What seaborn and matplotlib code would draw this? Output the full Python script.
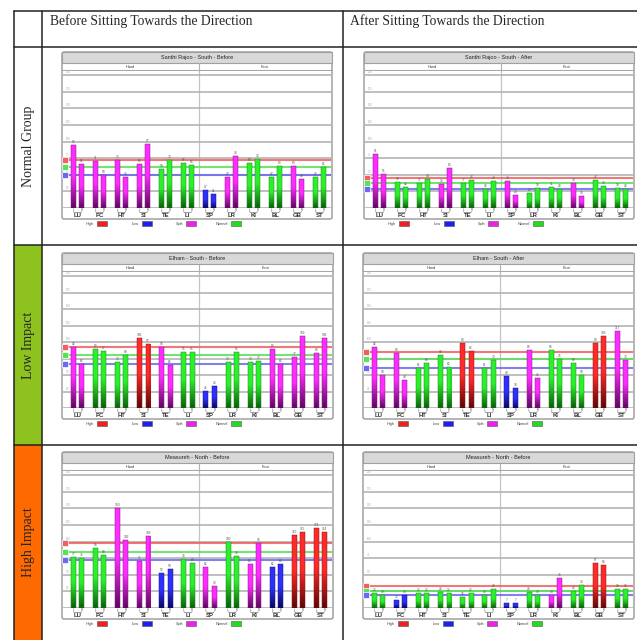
import numpy as np
import pandas as pd
import matplotlib
matplotlib.use("Agg")
import matplotlib.pyplot as plt
import matplotlib.transforms as mtransforms
from matplotlib.patches import FancyBboxPatch, Rectangle
from matplotlib.colors import LinearSegmentedColormap
import seaborn as sns

# ---------------------------------------------------------------- data
groups = ["LU", "PC", "HT", "SI", "TE", "LI", "SP", "LR", "KI", "BL", "GB", "ST"]
sections = ["Hand", "Foot"]
sides = ["L", "R"]

col_titles = ["Before Sitting Towards the Direction", "After Sitting Towards the Direction"]
row_titles = ["Normal Group", "Low Impact", "High Impact"]

chart_titles = [
    "Santhi Rajoo - South - Before", "Santhi Rajoo - South - After",
    "Elham - South - Before", "Elham - South - After",
    "Measureh - North - Before", "Measureh - North - Before",
]

legend_labels = ["High", "Low", "Split", "Normal"]

santhi_before_L = [95, 71, 73, 66, 59, 67, 27, 47, 67, 47, 63, 46]
santhi_before_R = [66, 50, 46, 97, 73, 64, 21, 79, 74, 63, 43, 61]
santhi_before_status = ["Split", "Split", "Split", "Split", "Normal", "Normal",
                        "Low", "Split", "Normal", "Normal", "Split", "Normal"]
santhi_before_refs = [73, 62, 50]          # high, normal, low thresholds

santhi_after_L = [81, 39, 37, 36, 37, 29, 40, 23, 31, 38, 42, 30]
santhi_after_R = [51, 32, 44, 60, 42, 40, 20, 30, 29, 18, 33, 28]
santhi_after_status = ["Split", "Normal", "Normal", "Split", "Normal", "Normal",
                       "Split", "Normal", "Normal", "Split", "Normal", "Normal"]
santhi_after_refs = [45, 37, 28]

elham_before_L = [92, 89, 70, 106, 93, 85, 26, 70, 70, 89, 77, 83]
elham_before_R = [66, 87, 80, 97, 65, 85, 34, 85, 72, 66, 109, 106]
elham_before_status = ["Split", "Normal", "Normal", "High", "Split", "Normal",
                       "Low", "Normal", "Normal", "Split", "Split", "Split"]
elham_before_refs = [92, 80, 66]

elham_after_L = [92, 83, 61, 80, 99, 61, 49, 88, 88, 69, 99, 117]
elham_after_R = [50, 43, 69, 62, 86, 73, 30, 46, 75, 50, 109, 73]
elham_after_status = ["Split", "Split", "Normal", "Normal", "High", "Normal",
                      "Low", "Split", "Normal", "Normal", "High", "Split"]
elham_after_refs = [85, 74, 61]

measureh_before_L = [77, 90, 150, 71, 52, 74, 62, 100, 66, 62, 110, 121]
measureh_before_R = [76, 80, 102, 109, 59, 68, 33, 79, 98, 66, 115, 114]
measureh_before_status = ["Normal", "Normal", "Split", "Split", "Low", "Normal",
                          "Split", "Normal", "Split", "Low", "High", "High"]
measureh_before_refs = [98, 85, 72]

measureh_after_L = [23, 12, 22, 24, 16, 19, 7, 24, 19, 25, 67, 29]
measureh_after_R = [19, 19, 22, 22, 22, 28, 7, 19, 45, 34, 64, 29]
measureh_after_status = ["Normal", "Low", "Normal", "Normal", "Normal", "Normal",
                         "Low", "Normal", "Split", "Normal", "High", "Normal"]
measureh_after_refs = [33, 26, 19]

panels = [
    (santhi_before_L, santhi_before_R, santhi_before_status, santhi_before_refs),
    (santhi_after_L, santhi_after_R, santhi_after_status, santhi_after_refs),
    (elham_before_L, elham_before_R, elham_before_status, elham_before_refs),
    (elham_after_L, elham_after_R, elham_after_status, elham_after_refs),
    (measureh_before_L, measureh_before_R, measureh_before_status, measureh_before_refs),
    (measureh_after_L, measureh_after_R, measureh_after_status, measureh_after_refs),
]

# ---------------------------------------------------------------- style
sns.set_style("white")
plt.rcParams["font.family"] = ["Liberation Sans", "DejaVu Sans"]

status_top = {"High": "#ff2a2a", "Low": "#2f2fff", "Split": "#ff2cff", "Normal": "#2cf02c"}
status_bottom = {"High": "#5e0606", "Low": "#08085e", "Split": "#5e065e", "Normal": "#0c5e0c"}
status_edge = {"High": "#8a1a1a", "Low": "#1a1a8a", "Split": "#8a1a8a", "Normal": "#1a8a1a"}
legend_colors = ["#ee2020", "#2020ee", "#ee20ee", "#20dd20"]
ref_colors = ["#f06060", "#5be05b", "#6a6af0"]

W, H = 637, 640
fig = plt.figure(figsize=(W / 100, H / 100), dpi=100)

bg = fig.add_axes([0, 0, 1, 1])
bg.set_xlim(0, W)
bg.set_ylim(H, 0)
bg.axis("off")

# ---------------------------------------------------------------- table
row_bounds = [(47, 245), (245, 445), (445, 640)]
row_fill = ["white", "#8dc21f", "#ff6a00"]
for (ya, yb), fc in zip(row_bounds, row_fill):
    bg.add_patch(Rectangle((14, ya), 28, yb - ya, fc=fc, ec="none", zorder=0))
for y in [11, 47, 245, 445]:
    bg.plot([14, 637], [y, y], color="#222222", lw=1.1, zorder=1)
for x in [14, 42, 343]:
    bg.plot([x, x], [11, 640], color="#222222", lw=1.1, zorder=1)

serif = ["Liberation Serif", "DejaVu Serif"]
bg.text(50, 21, col_titles[0], fontsize=9.8, family=serif, va="center", ha="left")
bg.text(350, 21, col_titles[1], fontsize=9.8, family=serif, va="center", ha="left")
for (ya, yb), t in zip(row_bounds, row_titles):
    bg.text(28.5, (ya + yb) / 2, t, fontsize=10, family=serif, rotation=90,
            ha="center", va="center")

boxes = [(62, 52, 332, 219), (364, 52, 634, 219),
         (62, 253, 333, 419), (363, 253, 634, 419),
         (62, 452, 333, 619), (363, 452, 634, 619)]


def gradient_cmap(status):
    return LinearSegmentedColormap.from_list(
        status, [status_bottom[status], status_top[status], status_top[status]])


def draw_panel(box, title, left_vals, right_vals, status, refs):
    x0, y0, x1, y1 = box
    # outer frame, title bar
    bg.add_patch(FancyBboxPatch((x0, y0), x1 - x0, y1 - y0,
                                boxstyle="round,pad=0,rounding_size=2",
                                fc="white", ec="#a0a0a0", lw=1.1, zorder=2))
    bg.add_patch(Rectangle((x0, y0), x1 - x0, 11, fc="#d8d8d8", ec="#a0a0a0",
                           lw=0.8, zorder=3))
    bg.text((x0 + x1) / 2, y0 + 5.6, title, fontsize=4, ha="center", va="center",
            color="#222222", zorder=4)
    bg.plot([x0, x1], [y0 + 18, y0 + 18], color="#a8a8a8", lw=0.8, zorder=3)

    # legend under the frame
    for i, (lab, c) in enumerate(zip(legend_labels, legend_colors)):
        bx = x0 + 35 + i * 44.7
        bg.add_patch(Rectangle((bx, y1 + 2.2), 10, 5, fc=c, ec="#555555", lw=0.4, zorder=3))
        bg.text(bx - 3, y1 + 4.7, lab, fontsize=2.8, ha="right", va="center",
                color="#444444", zorder=3)

    # bar plot area
    pl, pt, pr, pb = x0 + 0.6, y0 + 18.5, x1 - 0.6, y1 - 11
    ph, pw = pb - pt, pr - pl
    ax = fig.add_axes([pl / W, 1 - pb / H, pw / W, ph / H])
    ax.set_zorder(5)

    df = pd.DataFrame({
        "group": groups * 2,
        "side": ["L"] * len(groups) + ["R"] * len(groups),
        "value": list(left_vals) + list(right_vals),
    })
    sns.barplot(data=df, x="group", y="value", hue="side", order=groups,
                hue_order=sides, width=0.75, gap=0.40, errorbar=None,
                legend=False, ax=ax, palette=["#888888", "#888888"])

    xlim = (-0.68, 11.54)
    ylim = (0, 207)
    status_of = dict(zip(groups, status))
    for patch in list(ax.patches):
        bx, by = patch.get_x(), patch.get_y()
        bw, bh = patch.get_width(), patch.get_height()
        cx = bx + bw / 2
        gi = int(round(cx))
        st = status_of[groups[gi]]
        grad = np.linspace(1, 0, 64)
        img = ax.imshow(grad[:, None], extent=[bx, bx + bw, by, by + bh],
                        aspect="auto", cmap=gradient_cmap(st), vmin=0, vmax=1,
                        origin="upper", zorder=1.5, interpolation="bilinear")
        img.set_clip_path(patch)
        patch.set_facecolor("none")
        patch.set_edgecolor(status_edge[st])
        patch.set_linewidth(0.35)
        patch.set_zorder(2)
        ax.text(cx, by + bh + 1.5, f"{bh:.0f}", fontsize=2.3, ha="center",
                va="bottom", color="#555555", zorder=3)

    ax.set_xlim(*xlim)
    ax.set_ylim(*ylim)
    ax.set_xlabel("")
    ax.set_ylabel("")
    ax.set_xticks([])
    ax.set_yticks(np.arange(0, 201, 25))
    ax.set_yticklabels([])
    ax.tick_params(length=0)
    ax.grid(axis="y", color="#b4b4b4", lw=1.2)
    ax.set_axisbelow(True)
    for s in ax.spines.values():
        s.set_visible(False)

    trans_y = mtransforms.blended_transform_factory(ax.transAxes, ax.transData)
    for v in range(25, 201, 25):
        ax.text(0.012, v + 1.5, str(v), fontsize=2.2, color="#b0b0b0",
                transform=trans_y, ha="left", va="bottom")

    # Hand / Foot divider and section headings
    ax.axvline(5.5, color="#c4c4c4", lw=0.9, zorder=0.5)
    trans_x = mtransforms.blended_transform_factory(ax.transData, ax.transAxes)
    ax.plot([5.5, 5.5], [1, 1 + 7 / ph], color="#b0b0b0", lw=0.8,
            transform=trans_x, clip_on=False)
    ax.text(2.4, 1 + 3.6 / ph, sections[0], fontsize=2.8, ha="center", va="center",
            transform=trans_x, color="#333333")
    ax.text(8.5, 1 + 3.6 / ph, sections[1], fontsize=2.8, ha="center", va="center",
            transform=trans_x, color="#333333")

    # reference thresholds with end markers
    for v, c in zip(refs, ref_colors):
        ax.axhline(v, color=c, lw=1.5, alpha=0.85, zorder=1.2)
        ax.plot([2.4 / pw], [v], marker="s", markersize=4.0, markerfacecolor=c,
                markeredgecolor="#ffffff", markeredgewidth=0.5,
                transform=trans_y, clip_on=False, zorder=6)

    # L/R letters, brackets and group names under the bars
    for i, g in enumerate(groups):
        xl, xr = i - 0.19, i + 0.19
        ax.text(xl, -2.3 / ph, "L", fontsize=2.0, ha="center", va="center",
                transform=trans_x, color="#444444")
        ax.text(xr, -2.3 / ph, "R", fontsize=2.0, ha="center", va="center",
                transform=trans_x, color="#444444")
        ax.plot([xl, xl + 0.05, xr - 0.05, xr],
                [-3.6 / ph, -4.6 / ph, -4.6 / ph, -3.6 / ph],
                color="#555555", lw=0.4, transform=trans_x, clip_on=False)
        ax.text(i, -7.6 / ph, g, fontsize=4.3, ha="center", va="center",
                transform=trans_x, color="#333333", fontweight="bold")


for box, title, (lv, rv, st, refs) in zip(boxes, chart_titles, panels):
    draw_panel(box, title, lv, rv, st, refs)

fig.savefig("out.png", dpi=100)
